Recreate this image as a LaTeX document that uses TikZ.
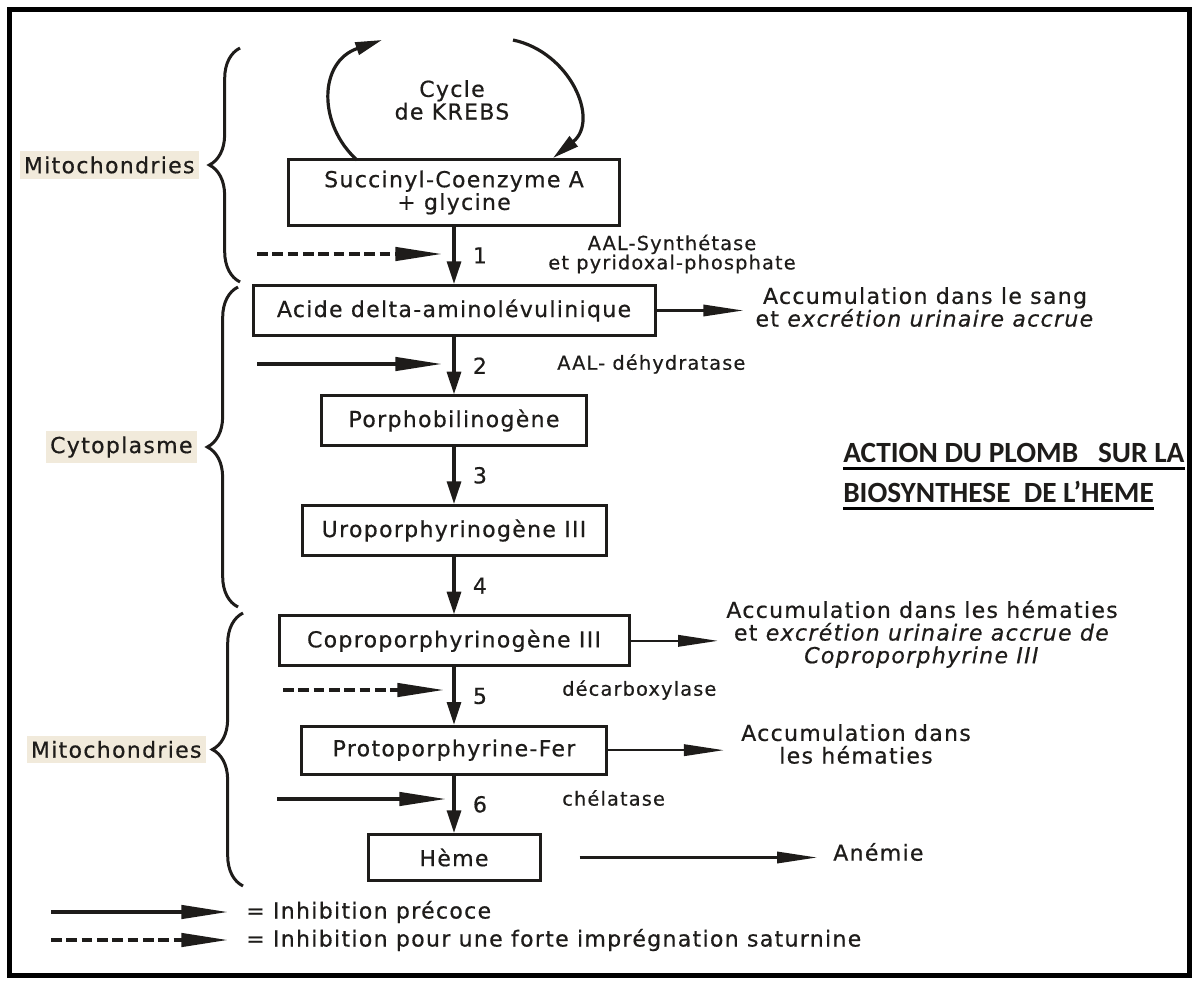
\documentclass[tikz,border=0pt]{standalone}
\usepackage{fontspec}
\setmainfont[LetterSpace=6,FakeBold=0.6]{DejaVu Sans}
\newfontfamily\headfont{Carlito}
\usetikzlibrary{arrows.meta}
\usetikzlibrary{positioning}
\usetikzlibrary{decorations.pathreplacing}
\definecolor{ink}{RGB}{30,28,26}
\definecolor{labelbg}{RGB}{241,234,219}
\newcommand\boxfont{\fontsize{16.5pt}{17pt}\selectfont}
\newcommand\enzfont{\fontsize{14.5pt}{14.5pt}\selectfont}

\begin{document}
\begin{tikzpicture}[x=0.75pt,y=-0.75pt,ink,text=ink]

  \tikzstyle{stepbox}=[rectangle,draw,line width=2.25pt,inner sep=0pt,align=center,font=\boxfont];
  \tikzstyle{stepnum}=[anchor=west,xshift=13pt,inner sep=0pt,font=\boxfont];
  \tikzstyle{enzyme}=[inner sep=0pt,align=center,font=\enzfont];
  \tikzstyle{effect}=[inner sep=0pt,align=center,font=\boxfont];
  \tikzstyle{legend}=[inner sep=0pt,anchor=west,font=\boxfont];
  \tikzstyle{titletext}=[inner xsep=0pt,inner ysep=4.5pt,anchor=base west,font=\headfont\bfseries\fontsize{22pt}{24pt}\selectfont];
  \tikzstyle{regionlabel}=[midway,anchor=east,xshift=-30pt,fill=labelbg,inner xsep=3pt,inner ysep=4pt,font=\boxfont];
  \tikzstyle{regionbrace}=[decorate,decoration={brace,amplitude=23pt},line width=2.25pt];
  \tikzstyle{steparrow}=[-{Triangle[length=17pt,width=10.5pt]},line width=2.4pt];
  \tikzstyle{cyclearrow}=[-{Triangle[length=20pt,width=9.5pt]},line width=2.4pt];
  \tikzstyle{inhib}=[-{Triangle[length=35pt,width=10pt]},line width=2.6pt];
  \tikzstyle{dashinhib}=[inhib,dash pattern=on 8pt off 3.5pt];
  \tikzstyle{outarrow}=[-{Triangle[length=30pt,width=8.5pt]},line width=1.8pt];

  \useasboundingbox (0,0) rectangle (1198,984);
  \draw[line width=3.75pt,black] (9.5,9.5) rectangle (1189.5,975);

  % main chain
  \node[stepbox,minimum width=248pt,minimum height=49pt] (succinyl) at (454,192.5) {Succinyl-Coenzyme A\\+ glycine};
  \node[stepbox,minimum width=301.5pt,minimum height=37.5pt] (ala)  [below=43pt of succinyl] {Acide delta-aminolévulinique};
  \node[stepbox,minimum width=199pt,minimum height=37pt]   (pbg)   [below=43pt of ala]   {Porphobilinogène};
  \node[stepbox,minimum width=228pt,minimum height=37.5pt] (uro)   [below=43pt of pbg]   {Uroporphyrinogène III};
  \node[stepbox,minimum width=262.5pt,minimum height=37.5pt] (copro) [below=43pt of uro] {Coproporphyrinogène III};
  \node[stepbox,minimum width=229pt,minimum height=36pt]   (proto) [below=43pt of copro] {Protoporphyrine-Fer};
  \node[stepbox,minimum width=129pt,minimum height=34.5pt] (heme)  [below=43pt of proto] {Hème};

  \path[steparrow]
    (succinyl) edge node[stepnum] {1} (ala)
    (ala)      edge node[stepnum] {2} (pbg)
    (pbg)      edge node[stepnum] {3} (uro)
    (uro)      edge node[stepnum] {4} (copro)
    (copro)    edge node[stepnum] {5} (proto)
    (proto)    edge node[stepnum] {6} (heme)
  ;

  % Krebs cycle
  \node[effect] (krebs) at (452,100) {Cycle\\de KREBS};
  \coordinate (leftfoot)  at (357,160);
  \coordinate (krebsout)  at (382,40);
  \coordinate (krebsin)   at (513,40);
  \coordinate (rightfoot) at (553,158);
  \draw[cyclearrow] (leftfoot) .. controls (318,125) and (318,62) .. (krebsout);
  \draw[cyclearrow] (krebsin) .. controls (570,52) and (600,120) .. (rightfoot);

  % enzymes
  \node[enzyme] (synthetase) at (672,254) {AAL-Synthétase\\et pyridoxal-phosphate};
  \node[enzyme,anchor=west] (dehydratase) at (557,364) {AAL- déhydratase};
  \node[enzyme,anchor=west] (decarbox) at (562,690) {décarboxylase};
  \node[enzyme,anchor=west] (chelatase) at (562,798) {chélatase};

  % inhibitions
  \coordinate (inhibA) at (257,254); \coordinate (tipA) at (442,254);
  \coordinate (inhibB) at (257,364); \coordinate (tipB) at (442,364);
  \coordinate (inhibC) at (283,690); \coordinate (tipC) at (444,690);
  \coordinate (inhibD) at (277,799); \coordinate (tipD) at (446,799);
  \draw[dashinhib] (inhibA) -- (tipA);
  \draw[inhib]     (inhibB) -- (tipB);
  \draw[dashinhib] (inhibC) -- (tipC);
  \draw[inhib]     (inhibD) -- (tipD);

  % effects
  \node[effect] (sang) at (925,307) {Accumulation dans le sang\\et \textit{excrétion urinaire accrue}};
  \node[effect] (hematies) at (922,634) {Accumulation dans les hématies\\et \textit{excrétion urinaire accrue de}\\\textit{Coproporphyrine III}};
  \node[effect] (protoacc) at (856,744) {Accumulation dans\\les hématies};
  \node[effect,anchor=west] (anemie) at (833,852) {Anémie};

  \draw[outarrow,shorten >=9pt] (ala.east) -- (ala.east -| sang.west);
  \draw[outarrow,shorten >=6pt] (copro.east) -- (copro.east -| hematies.west);
  \draw[outarrow,shorten >=12.75pt] (proto.east) -- (proto.east -| protoacc.west);
  \draw[outarrow,shorten <=28.5pt,shorten >=12pt] (heme.east) -- (heme.east -| anemie.west);

  % compartments
  \draw[regionbrace] (240,282) -- (240,48) node[regionlabel] {Mitochondries};
  \draw[regionbrace] (238,607) -- (238,287) node[regionlabel] {Cytoplasme};
  \draw[regionbrace] (243,886) -- (243,613) node[regionlabel,xshift=3pt] {Mitochondries};

  % title
  \node[titletext] (titleA) at (843,462) {ACTION DU PLOMB\ \ \ SUR LA};
  \node[titletext] (titleB) at (843,502) {BIOSYNTHESE\ \ DE L’HEME};
  \draw[line width=2.25pt,black] (titleA.south west) -- (titleA.south east);
  \draw[line width=2.25pt,black] (titleB.south west) -- (titleB.south east);

  % legend
  \node[legend] (precoce) at (246,912) {= Inhibition précoce};
  \node[legend] (saturnine) at (246,940) {= Inhibition pour une forte imprégnation saturnine};
  \coordinate (legsolid) at (51,912);
  \coordinate (legdash) at (51,940);
  \draw[inhib,shorten >=13.5pt] (legsolid) -- (precoce.west);
  \draw[dashinhib,shorten >=13.5pt] (legdash) -- (saturnine.west);

\end{tikzpicture}
\end{document}
